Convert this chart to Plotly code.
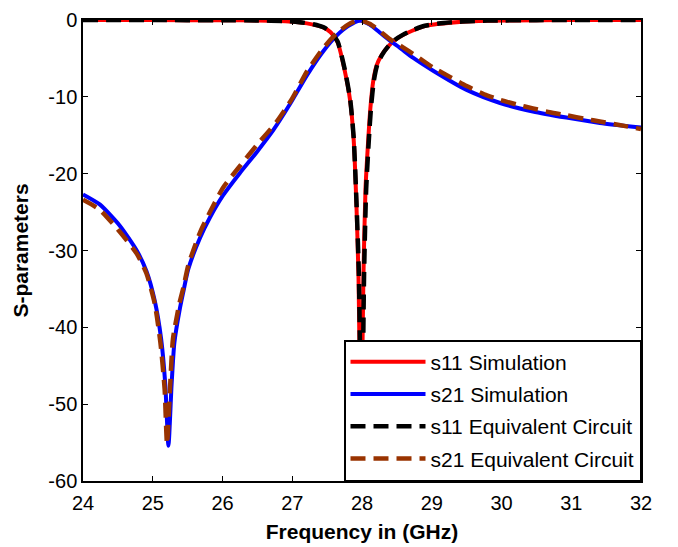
import plotly.graph_objects as go

# ---- data ----
f_s11_sim = [24.0, 25.0, 26.0, 26.5, 26.9, 27.1, 27.3, 27.45, 27.55, 27.65, 27.75, 27.83, 27.88,
             27.92, 27.95, 27.985, 28.02, 28.05, 28.09, 28.12, 28.16, 28.21, 28.28, 28.36, 28.46,
             28.58, 28.72, 28.9, 29.1, 29.4, 29.8, 30.5, 31.5, 32.0]
s11_sim = [0, -0.01, -0.03, -0.07, -0.15, -0.3, -0.6, -1.0, -1.6, -2.9, -6.5, -10.5, -15.5,
           -24, -33.5, -56, -33.5, -22, -15.5, -11.5, -8.0, -5.9, -4.6, -3.6, -2.7,
           -2.0, -1.4, -0.8, -0.5, -0.25, -0.1, -0.03, 0, 0]

f_s21_sim = [24.0, 24.24, 24.53, 24.77, 24.91, 25.03, 25.12, 25.18, 25.225, 25.27, 25.31, 25.39,
             25.44, 25.51, 25.68, 25.82, 26.01, 26.25, 26.49, 26.73, 26.97, 27.21, 27.45, 27.64,
             27.8, 27.97, 28.11, 28.25, 28.4, 28.54, 28.73, 29.02, 29.5, 29.98, 30.45, 30.93,
             31.41, 32.0]
s21_sim = [-22.7, -24.0, -26.8, -30.0, -32.7, -36.6, -41.5, -47.5, -55.4, -47.5, -42.0, -37.5,
           -35.3, -32.4, -28.3, -25.7, -22.8, -19.9, -17.2, -14.3, -10.9, -7.2, -4.0, -2.0,
           -0.8, -0.1, -0.6, -1.6, -2.7, -3.6, -4.9, -6.6, -9.1, -10.8, -11.9, -12.7,
           -13.4, -14.0]

f_s11_ec = [24.0, 25.0, 26.0, 26.5, 26.9, 27.1, 27.3, 27.45, 27.55, 27.65, 27.75, 27.83, 27.88,
            27.92, 27.955, 27.995, 28.03, 28.06, 28.1, 28.13, 28.17, 28.22, 28.29, 28.37, 28.47,
            28.59, 28.73, 28.9, 29.1, 29.4, 29.8, 30.5, 31.5, 32.0]
s11_ec = [0, -0.01, -0.03, -0.06, -0.14, -0.28, -0.55, -0.95, -1.55, -2.8, -6.3, -10.3, -15.2,
          -23.5, -33.0, -57, -33.0, -22, -15.3, -11.3, -7.9, -5.8, -4.5, -3.5, -2.6,
          -1.9, -1.3, -0.75, -0.45, -0.22, -0.08, -0.02, 0, 0]

f_s21_ec = [24.0, 24.24, 24.53, 24.77, 24.91, 25.03, 25.11, 25.17, 25.205, 25.25, 25.29, 25.38,
            25.44, 25.51, 25.68, 25.82, 26.01, 26.25, 26.49, 26.78, 27.0, 27.21, 27.45, 27.64,
            27.8, 27.95, 28.11, 28.25, 28.4, 28.56, 28.78, 29.02, 29.26, 29.5, 29.79, 29.98,
            30.22, 30.45, 30.69, 30.93, 31.22, 31.41, 31.65, 32.0]
s21_ec = [-23.4, -24.7, -27.6, -30.4, -33.0, -37.0, -42.0, -48.0, -55.2, -47.5, -41.5, -37.0,
          -34.8, -31.9, -27.6, -25.0, -21.8, -19.0, -16.3, -13.2, -10.2, -6.7, -3.6, -1.7,
          -0.6, 0.0, -0.5, -1.4, -2.5, -3.4, -4.7, -6.2, -7.4, -8.6, -9.8, -10.4,
          -11.0, -11.5, -12.0, -12.4, -12.9, -13.2, -13.6, -14.2]

x_ticks = [24, 25, 26, 27, 28, 29, 30, 31, 32]
y_ticks = [0, -10, -20, -30, -40, -50, -60]

FONT = "Arial, Liberation Sans, Helvetica, sans-serif"

fig = go.Figure()
fig.add_trace(go.Scatter(x=f_s11_sim, y=s11_sim, mode="lines", name="s11 Simulation",
                         line=dict(color="#ff0000", width=4, shape="spline", smoothing=0.6),
                         legendgroup="a"))
fig.add_trace(go.Scatter(x=f_s21_sim, y=s21_sim, mode="lines", name="s21 Simulation",
                         line=dict(color="#0000ff", width=4, shape="spline", smoothing=0.6),
                         legendgroup="b"))
fig.add_trace(go.Scatter(x=f_s11_ec, y=s11_ec, mode="lines", name="s11 Equivalent Circuit",
                         line=dict(color="#000000", width=4.5, dash="15px,8px", shape="spline",
                                   smoothing=0.6),
                         legendgroup="c"))
fig.add_trace(go.Scatter(x=f_s21_ec, y=s21_ec, mode="lines", name="s21 Equivalent Circuit",
                         line=dict(color="#993300", width=4.5, dash="15px,8px", shape="spline",
                                   smoothing=0.6),
                         legendgroup="d"))

axis_common = dict(showline=True, linecolor="black", linewidth=1.5, mirror="allticks",
                   ticks="inside", ticklen=5, tickwidth=1.2, tickcolor="black",
                   showgrid=False, zeroline=False, ticklabeloverflow="allow",
                   automargin=False,
                   tickfont=dict(family=FONT, size=20, color="black"))

fig.update_xaxes(range=[24, 32], tickvals=x_ticks, ticktext=[str(v) for v in x_ticks],
                 ticklabelstandoff=3,
                 title=dict(text="Frequency in (GHz)", standoff=12,
                            font=dict(family=FONT, size=21, color="black", weight="bold")),
                 **axis_common)
fig.update_yaxes(range=[-60, 0], tickvals=y_ticks, ticktext=[str(v) for v in y_ticks],
                 title=dict(text="S-parameters", standoff=14,
                            font=dict(family=FONT, size=21, color="black", weight="bold")),
                 **axis_common)

# the page body has an 8px default margin, so the figure is sized/offset to compensate
fig.update_layout(
    width=670, height=539,
    margin=dict(l=75, r=37, t=12, b=66, autoexpand=False),
    plot_bgcolor="white", paper_bgcolor="white",
    legend=dict(x=1, y=0, xanchor="right", yanchor="bottom",
                bgcolor="white", bordercolor="black", borderwidth=1.5,
                font=dict(family=FONT, size=21, color="black"),
                traceorder="grouped", tracegroupgap=2, itemwidth=75,
                entrywidth=215, entrywidthmode="pixels"),
    showlegend=True,
)

fig.write_html("out.html")
